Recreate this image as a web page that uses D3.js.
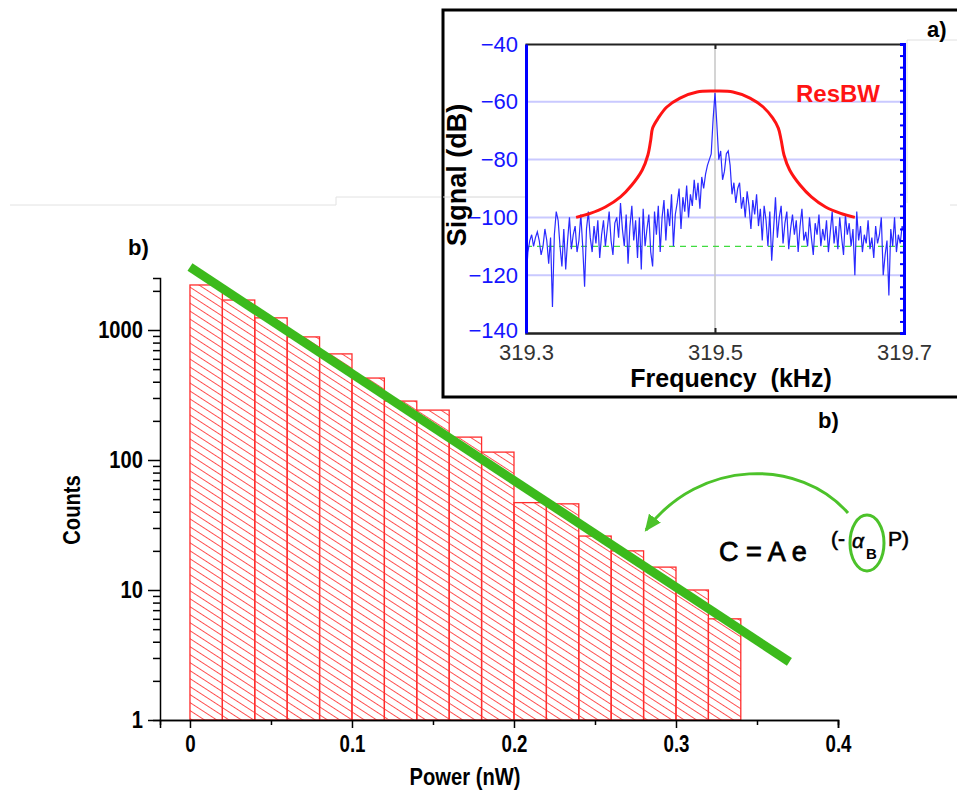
<!DOCTYPE html>
<html>
<head>
<meta charset="utf-8">
<script src="https://cdn.jsdelivr.net/npm/d3@7"></script>
<style>
  body { margin: 0; background: #fff; }
  svg { display: block; font-family: "Liberation Sans", Arial, Helvetica, sans-serif; }
</style>
</head>
<body>
<div id="chart"></div>
<script>
// ---- histogram (panel b) ----
const binStarts = [0, 0.02, 0.04, 0.06, 0.08, 0.10, 0.12, 0.14, 0.16, 0.18, 0.20, 0.22, 0.24, 0.26, 0.28, 0.30, 0.32];
const binWidth = 0.02;
const counts = [2220, 1700, 1240, 885, 655, 427, 284, 242, 150, 115, 47, 46, 26, 20, 15, 10, 6];
const fitPower = [0, 0.37];
const fitCounts = [3050, 2.8];
const powerTicks = [0, 0.1, 0.2, 0.3, 0.4];
const powerMinor = [0.05, 0.15, 0.25, 0.35];
const countTicks = [1, 10, 100, 1000];
const countMinor = [2, 3, 4, 5, 6, 7, 8, 9, 20, 30, 40, 50, 60, 70, 80, 90, 200, 300, 400, 500, 600, 700, 800, 900, 2000];

// ---- spectrum (panel a) ----
const specStart = 319.3, specStep = 0.002;
const spectrumDb = [
  -122,-112,-108,-106,-110,-107,-105,-108,-113,-110,
  -104,-108,-116,-107,-131,-106,-98,-101,-110,-117,
  -104,-118,-108,-100,-111,-106,-103,-112,-108,-99,
  -110,-124,-104,-98,-107,-112,-103,-109,-101,-114,
  -106,-101,-110,-104,-98,-108,-113,-102,-100,-107,
  -95,-104,-110,-99,-116,-103,-96,-108,-101,-114,
  -100,-118,-97,-110,-104,-99,-112,-117,-98,-106,
  -96,-112,-100,-94,-108,-97,-103,-92,-110,-99,
  -95,-90,-104,-93,-98,-89,-100,-92,-96,-87,
  -94,-88,-97,-86,-90,-85,-82,-80,-78,-66,
  -57,
  -68,-80,-77,-87,-84,-78,-77,-82,-92,-88,
  -95,-90,-88,-97,-93,-100,-91,-96,-104,-94,
  -99,-92,-103,-97,-108,-96,-101,-110,-98,-115,
  -104,-93,-107,-100,-96,-109,-102,-98,-111,-104,
  -99,-106,-101,-112,-103,-97,-108,-105,-110,-100,
  -107,-113,-102,-106,-99,-110,-104,-108,-101,-112,
  -105,-98,-109,-103,-111,-100,-107,-113,-99,-106,
  -102,-110,-104,-120,-98,-108,-103,-112,-106,-109,
  -101,-111,-107,-114,-103,-109,-106,-100,-120,-113,
  -108,-127,-104,-110,-100,-112,-106,-109,-103,-105,-108
];
const resbwFreq = [319.353, 319.368, 319.384, 319.400, 319.412, 319.423, 319.429, 319.432, 319.434, 319.440, 319.449, 319.463, 319.481, 319.500,
                   319.519, 319.537, 319.551, 319.561, 319.567, 319.570, 319.573, 319.579, 319.590, 319.602, 319.617, 319.633, 319.648];
const resbwDb = [-100, -98.6, -96.4, -92.9, -88.8, -83.6, -78.4, -73.2, -69.1, -65.6, -61.8, -58.7, -56.6, -56.3,
                 -56.6, -58.7, -61.8, -65.6, -69.1, -73.2, -78.4, -83.6, -88.8, -92.9, -96.4, -98.6, -100];
const noiseFloor = -110;
const freqTicks = [319.3, 319.5, 319.7];
const dbTicks = [-40, -60, -80, -100, -120, -140];
const dbGrid = [-60, -80, -100, -120];

const W = 957, H = 796;
const FONT = "'Liberation Sans', Arial, sans-serif";
const NARROW = 0.84;   // the panel-b lettering is a tall, narrow bold face

const svg = d3.select("#chart").append("svg").attr("width", W).attr("height", H);
const defs = svg.append("defs");

// hatch for the bars
const pat = defs.append("pattern")
  .attr("id", "hatch")
  .attr("patternUnits", "userSpaceOnUse")
  .attr("width", 10).attr("height", 6.7)
  .attr("patternTransform", "rotate(33)");
pat.append("line")
  .attr("x1", -1).attr("x2", 11).attr("y1", 3.35).attr("y2", 3.35)
  .attr("stroke", "#ff4d4d").attr("stroke-width", 1);

defs.append("marker")
  .attr("id", "arrowHead")
  .attr("viewBox", "0 0 16 14")
  .attr("refX", 14).attr("refY", 7)
  .attr("markerWidth", 17).attr("markerHeight", 15)
  .attr("markerUnits", "userSpaceOnUse")
  .attr("orient", "auto")
  .append("path").attr("d", "M0,0 L16,7 L0,14 Z").attr("fill", "#4cc22a");

defs.append("clipPath").attr("id", "insetClip")
  .append("rect").attr("x", 526).attr("y", 44).attr("width", 378).attr("height", 289);

// faint leftover frame lines of the composite figure
svg.append("path")
  .attr("d", "M10,205 H336 V197 H443")
  .attr("fill", "none").attr("stroke", "#e2e2e2").attr("stroke-width", 1);

// ================= main histogram =================
const x = d3.scaleLinear().domain([-0.0185, 0.4]).range([160, 838]);
const y = d3.scaleLog().domain([1, 2512]).range([720, 278]);

const bars = binStarts.map((b, i) => ({ p: b, c: counts[i] }));
svg.append("g").selectAll("rect")
  .data(bars)
  .enter()
  .append("rect")
  .attr("x", d => x(d.p))
  .attr("y", d => y(d.c))
  .attr("width", d => x(d.p + binWidth) - x(d.p))
  .attr("height", d => y(1) - y(d.c))
  .attr("fill", "url(#hatch)")
  .attr("stroke", "#ff2d2d")
  .attr("stroke-width", 1.3);

// axes
const xAxisG = svg.append("g").attr("transform", "translate(0,720)");
xAxisG.call(d3.axisBottom(x).tickValues(powerMinor).tickSize(5).tickFormat(""));
const xMajor = svg.append("g").attr("transform", "translate(0,720)");
xMajor.call(d3.axisBottom(x).tickValues(powerTicks).tickSize(8).tickPadding(7).tickFormat(d3.format("")));
[xAxisG, xMajor].forEach(g => g.selectAll("path, line").attr("stroke", "#000").attr("stroke-width", 1.5));
xMajor.selectAll("text").attr("font-size", 24).attr("font-weight", "bold").attr("fill", "#000")
  .attr("font-family", FONT).attr("transform", "scale(0.78,1)");

const yAxisG = svg.append("g").attr("transform", "translate(160,0)");
yAxisG.call(d3.axisLeft(y).tickValues(countMinor).tickSize(7).tickFormat(""));
const yMajor = svg.append("g").attr("transform", "translate(160,0)");
yMajor.call(d3.axisLeft(y).tickValues(countTicks).tickSize(12).tickPadding(5).tickFormat(d3.format("d")));
yMajor.select(".domain").remove();
[yAxisG, yMajor].forEach(g => g.selectAll("path, line").attr("stroke", "#000").attr("stroke-width", 1.5));
yMajor.selectAll("text").attr("font-size", 24).attr("font-weight", "bold").attr("fill", "#000")
  .attr("font-family", FONT).attr("x", -17 / NARROW).attr("transform", `scale(${NARROW},1)`);

// fitted exponential
svg.append("line")
  .attr("x1", x(fitPower[0])).attr("y1", y(fitCounts[0]))
  .attr("x2", x(fitPower[1])).attr("y2", y(fitCounts[1]))
  .attr("stroke", "#3cba1c").attr("stroke-width", 9);

svg.append("text").attr("transform", `translate(465,785) scale(${NARROW},1)`).attr("text-anchor", "middle")
  .attr("font-size", 24).attr("font-weight", "bold").text("Power (nW)");
svg.append("text").attr("transform", `translate(80,510) rotate(-90) scale(${NARROW},1)`).attr("text-anchor", "middle")
  .attr("font-size", 24).attr("font-weight", "bold").text("Counts");
svg.append("text").attr("x", 128).attr("y", 255)
  .attr("font-size", 22).attr("font-weight", "bold").text("b)");
svg.append("text").attr("x", 818).attr("y", 428)
  .attr("font-size", 22).attr("font-weight", "bold").text("b)");

// formula + arrow
svg.append("path")
  .attr("d", "M848,513 C800,458 700,458 646,530")
  .attr("fill", "none").attr("stroke", "#4cc22a").attr("stroke-width", 3)
  .attr("marker-end", "url(#arrowHead)");
svg.append("text").attr("x", 719).attr("y", 561)
  .attr("font-size", 27).attr("stroke", "#000").attr("stroke-width", 0.8).text("C = A e");
svg.append("text").attr("x", 831).attr("y", 546)
  .attr("font-size", 21).attr("stroke", "#000").attr("stroke-width", 0.6).text("(-");
svg.append("text").attr("x", 852).attr("y", 548)
  .attr("font-size", 21).attr("font-style", "italic").attr("stroke", "#000").attr("stroke-width", 0.5).text("α");
svg.append("text").attr("x", 866).attr("y", 559)
  .attr("font-size", 15).attr("font-weight", "bold").text("B");
svg.append("text").attr("x", 888).attr("y", 546)
  .attr("font-size", 21).attr("stroke", "#000").attr("stroke-width", 0.6).text("P)");
svg.append("ellipse").attr("cx", 867).attr("cy", 543).attr("rx", 17).attr("ry", 28)
  .attr("fill", "none").attr("stroke", "#4cc22a").attr("stroke-width", 3);

// ================= inset spectrum =================
svg.append("rect").attr("x", 443).attr("y", 10).attr("width", 530).attr("height", 387)
  .attr("fill", "#fff").attr("stroke", "#000").attr("stroke-width", 3);
svg.append("path").attr("d", "M443,197 H526").attr("stroke", "#d6d6d6").attr("stroke-width", 1);
svg.append("path").attr("d", "M957,40 H907 V203 M950,205 H957")
  .attr("fill", "none").attr("stroke", "#e0e0e0").attr("stroke-width", 1);

const fx = d3.scaleLinear().domain([319.3, 319.7]).range([526, 904]);
const fy = d3.scaleLinear().domain([-140, -40]).range([333, 44]);

// grid
svg.append("g").selectAll("line").data(dbGrid).enter().append("line")
  .attr("x1", 526).attr("x2", 904).attr("y1", d => fy(d)).attr("y2", d => fy(d))
  .attr("stroke", "#c9c9ff").attr("stroke-width", 2);
svg.append("line").attr("x1", fx(319.5)).attr("x2", fx(319.5)).attr("y1", 44).attr("y2", 333)
  .attr("stroke", "#c6c6c6").attr("stroke-width", 1.5);

// spectrum trace
const spec = spectrumDb.map((v, i) => ({ f: specStart + i * specStep, v: v }));
const plotG = svg.append("g").attr("clip-path", "url(#insetClip)");
plotG.append("line").attr("x1", 526).attr("x2", 904).attr("y1", fy(noiseFloor)).attr("y2", fy(noiseFloor))
  .attr("stroke", "#3fdc3f").attr("stroke-width", 1.3).attr("stroke-dasharray", "6,5");
plotG.append("path").datum(spec)
  .attr("d", d3.line().x(d => fx(d.f)).y(d => fy(d.v)))
  .attr("fill", "none").attr("stroke", "#2a2aff").attr("stroke-width", 1.2);

const resbw = resbwFreq.map((f, i) => ({ f: f, v: resbwDb[i] }));
svg.append("path").datum(resbw)
  .attr("d", d3.line().curve(d3.curveCatmullRom).x(d => fx(d.f)).y(d => fy(d.v)))
  .attr("fill", "none").attr("stroke", "#ff1414").attr("stroke-width", 3);

// inset axes
const topAx = svg.append("g").attr("transform", "translate(0,44)")
  .call(d3.axisBottom(fx).tickValues([319.5]).tickSize(5).tickFormat(""));
const botAx = svg.append("g").attr("transform", "translate(0,333)")
  .call(d3.axisTop(fx).tickValues([319.5]).tickSize(5).tickFormat(""));
[topAx, botAx].forEach(g => g.selectAll("path, line").attr("stroke", "#222").attr("stroke-width", 2));
botAx.select(".domain").attr("stroke-width", 2.5);

const fLabels = svg.append("g").attr("transform", "translate(0,333)")
  .call(d3.axisBottom(fx).tickValues(freqTicks).tickSize(0).tickPadding(11).tickFormat(d3.format(".1f")));
fLabels.select(".domain").remove();
fLabels.selectAll("text").attr("font-size", 22).attr("fill", "#333").attr("font-family", FONT);

const leftAx = svg.append("g").attr("transform", "translate(526,0)")
  .call(d3.axisLeft(fy).tickValues(dbTicks).tickSize(0).tickPadding(8).tickFormat(d3.format("d")));
leftAx.select(".domain").attr("stroke", "#0000ff").attr("stroke-width", 3);
leftAx.selectAll("text").attr("font-size", 22).attr("fill", "#1515ff").attr("font-family", FONT)
  .attr("dy", d => d === -140 ? "0.2em" : "0.32em");

const rightAx = svg.append("g").attr("transform", "translate(904,0)")
  .call(d3.axisRight(fy).tickValues(d3.range(-140, -39, 4)).tickSize(-4).tickFormat(""));
rightAx.selectAll("path, line").attr("stroke", "#0000ff").attr("stroke-width", 2);
rightAx.select(".domain").attr("stroke-width", 3);

svg.append("text").attr("x", 731).attr("y", 387).attr("text-anchor", "middle")
  .attr("font-size", 25).attr("font-weight", "bold").style("white-space", "pre")
  .text("Frequency  (kHz)");
svg.append("text").attr("transform", "translate(466,175) rotate(-90)").attr("text-anchor", "middle")
  .attr("font-size", 27).attr("font-weight", "bold").text("Signal (dB)");
svg.append("text").attr("x", 796).attr("y", 102)
  .attr("font-size", 24).attr("font-weight", "bold").attr("fill", "#ff1414").text("ResBW");
svg.append("text").attr("x", 927).attr("y", 37)
  .attr("font-size", 22).attr("font-weight", "bold").text("a)");
</script>
</body>
</html>
